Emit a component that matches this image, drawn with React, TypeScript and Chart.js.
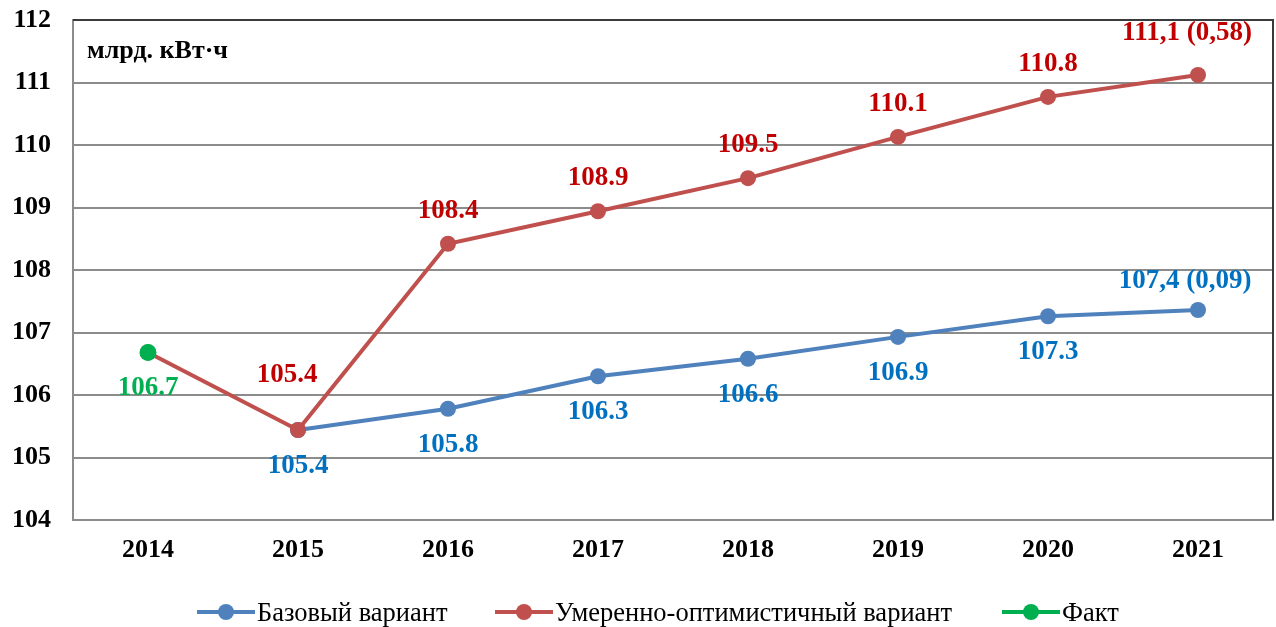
import { useEffect, useRef } from "react";
import { Chart, registerables } from "chart.js";

Chart.register(...registerables);

const years = ["2014", "2015", "2016", "2017", "2018", "2019", "2020", "2021"];
const baseValues = [null, 105.44, 105.78, 106.3, 106.58, 106.93, 107.26, 107.36];
const optValues = [106.68, 105.44, 108.42, 108.94, 109.47, 110.13, 110.77, 111.12];
const factValues = [106.68, null, null, null, null, null, null, null];
const baseLabels = ["", "105.4", "105.8", "106.3", "106.6", "106.9", "107.3", "107,4 (0,09)"];
const optLabels = ["", "105.4", "108.4", "108.9", "109.5", "110.1", "110.8", "111,1 (0,58)"];
const factLabels = ["106.7", "", "", "", "", "", "", ""];
const seriesNames = ["Базовый вариант", "Умеренно-оптимистичный вариант", "Факт"];
const unitLabel = "млрд. кВт·ч";
const yMin = 104;
const yMax = 112;

const FONT = "'Liberation Serif', 'Times New Roman', serif";
const BLUE = "#4f81bd";
const RED = "#c0504d";
const GREEN = "#00b050";

const valueLabelPlugin = {
  id: "valueLabels",
  afterDatasetsDraw(chart: any) {
    const ctx = chart.ctx;
    ctx.save();
    ctx.font = `bold 27px ${FONT}`;
    ctx.textAlign = "center";
    ctx.textBaseline = "middle";
    chart.data.datasets.forEach((ds: any, i: number) => {
      const meta = chart.getDatasetMeta(i);
      const labels: string[] = ds.valueLabels || [];
      meta.data.forEach((pt: any, j: number) => {
        const txt = labels[j];
        if (!txt || ds.data[j] == null) return;
        const off = (ds.labelOffsets && ds.labelOffsets[j]) || [0, ds.labelDy];
        ctx.fillStyle = ds.labelColor;
        ctx.fillText(txt, pt.x + off[0], pt.y + off[1]);
      });
    });
    ctx.restore();
  },
};

const framePlugin = {
  id: "frame",
  afterDraw(chart: any) {
    const { ctx, chartArea } = chart;
    const { left, right, top } = chartArea;
    ctx.save();
    ctx.strokeStyle = "#3a3a3a";
    ctx.lineWidth = 2;
    ctx.beginPath();
    ctx.moveTo(left, top);
    ctx.lineTo(right, top);
    ctx.lineTo(right, chartArea.bottom);
    ctx.stroke();
    // unit label
    ctx.fillStyle = "#000";
    ctx.font = `bold 26px ${FONT}`;
    ctx.textAlign = "left";
    ctx.textBaseline = "middle";
    ctx.fillText(unitLabel, left + 14, 51);

    // legend
    const colors = [BLUE, RED, GREEN];
    const starts = [197, 495, 1002];
    const lineW = 58;
    ctx.font = `26.5px ${FONT}`;
    const y = 612;
    seriesNames.forEach((n, i) => {
      const x = starts[i];
      ctx.strokeStyle = colors[i];
      ctx.lineWidth = 4;
      ctx.beginPath();
      ctx.moveTo(x, y);
      ctx.lineTo(x + lineW, y);
      ctx.stroke();
      ctx.fillStyle = colors[i];
      ctx.beginPath();
      ctx.arc(x + lineW / 2, y, 8, 0, Math.PI * 2);
      ctx.fill();
      ctx.fillStyle = "#000";
      ctx.fillText(n, x + lineW + 2, y + 2);
    });
    ctx.restore();
  },
};

export default function App() {
  const ref = useRef<HTMLCanvasElement>(null);
  useEffect(() => {
    if (!ref.current) return;
    const chart = new Chart(ref.current, {
      type: "line",
      data: {
        labels: years,
        datasets: [
          {
            label: seriesNames[0],
            data: baseValues,
            borderColor: BLUE,
            backgroundColor: BLUE,
            borderWidth: 4,
            pointRadius: 8,
            pointHoverRadius: 8,
            pointBorderWidth: 0,
            order: 3,
            valueLabels: baseLabels,
            labelColor: "#0070c0",
            labelDy: 36,
            labelOffsets: { 7: [-13, -29] },
          } as any,
          {
            label: seriesNames[1],
            data: optValues,
            borderColor: RED,
            backgroundColor: RED,
            borderWidth: 4,
            pointRadius: 8,
            pointHoverRadius: 8,
            pointBorderWidth: 0,
            order: 2,
            valueLabels: optLabels,
            labelColor: "#c00000",
            labelDy: -33,
            labelOffsets: { 1: [-11, -55], 7: [-11, -42] },
          } as any,
          {
            label: seriesNames[2],
            data: factValues,
            borderColor: GREEN,
            backgroundColor: GREEN,
            borderWidth: 4,
            pointRadius: 8.5,
            pointHoverRadius: 8.5,
            pointBorderWidth: 0,
            order: 1,
            valueLabels: factLabels,
            labelColor: GREEN,
            labelDy: 36,
          } as any,
        ],
      },
      options: {
        responsive: false,
        animation: false,
        layout: { autoPadding: false, padding: { top: 20, right: 3, left: 0, bottom: 0 } },
        plugins: { legend: { display: false }, tooltip: { enabled: false } },
        scales: {
          x: {
            offset: true,
            grid: { display: false, drawTicks: false },
            border: { display: true, color: "#8c8c8c", width: 2 },
            ticks: {
              color: "#000",
              font: { family: FONT, size: 26, weight: "bold" },
              padding: 15,
              autoSkip: false,
              maxRotation: 0,
            },
            afterFit(scale: any) {
              scale.height = 107;
              scale.paddingLeft = 0;
              scale.paddingRight = 0;
            },
          },
          y: {
            min: yMin,
            max: yMax,
            grid: { color: "#8c8c8c", lineWidth: 2, drawTicks: false },
            border: { display: true, color: "#8c8c8c", width: 2 },
            ticks: {
              stepSize: 1,
              color: "#000",
              font: { family: FONT, size: 26, weight: "bold" },
              padding: 22,
            },
            afterFit(scale: any) {
              scale.width = 73;
              scale.paddingTop = 0;
              scale.paddingBottom = 0;
            },
          },
        },
      },
      plugins: [valueLabelPlugin, framePlugin],
    });
    return () => chart.destroy();
  }, []);
  return (
    <div style={{ position: "fixed", left: 0, top: 0, width: 1276, height: 627, background: "#fff" }}>
      <canvas ref={ref} width={1276} height={627} style={{ display: "block" }} />
    </div>
  );
}
